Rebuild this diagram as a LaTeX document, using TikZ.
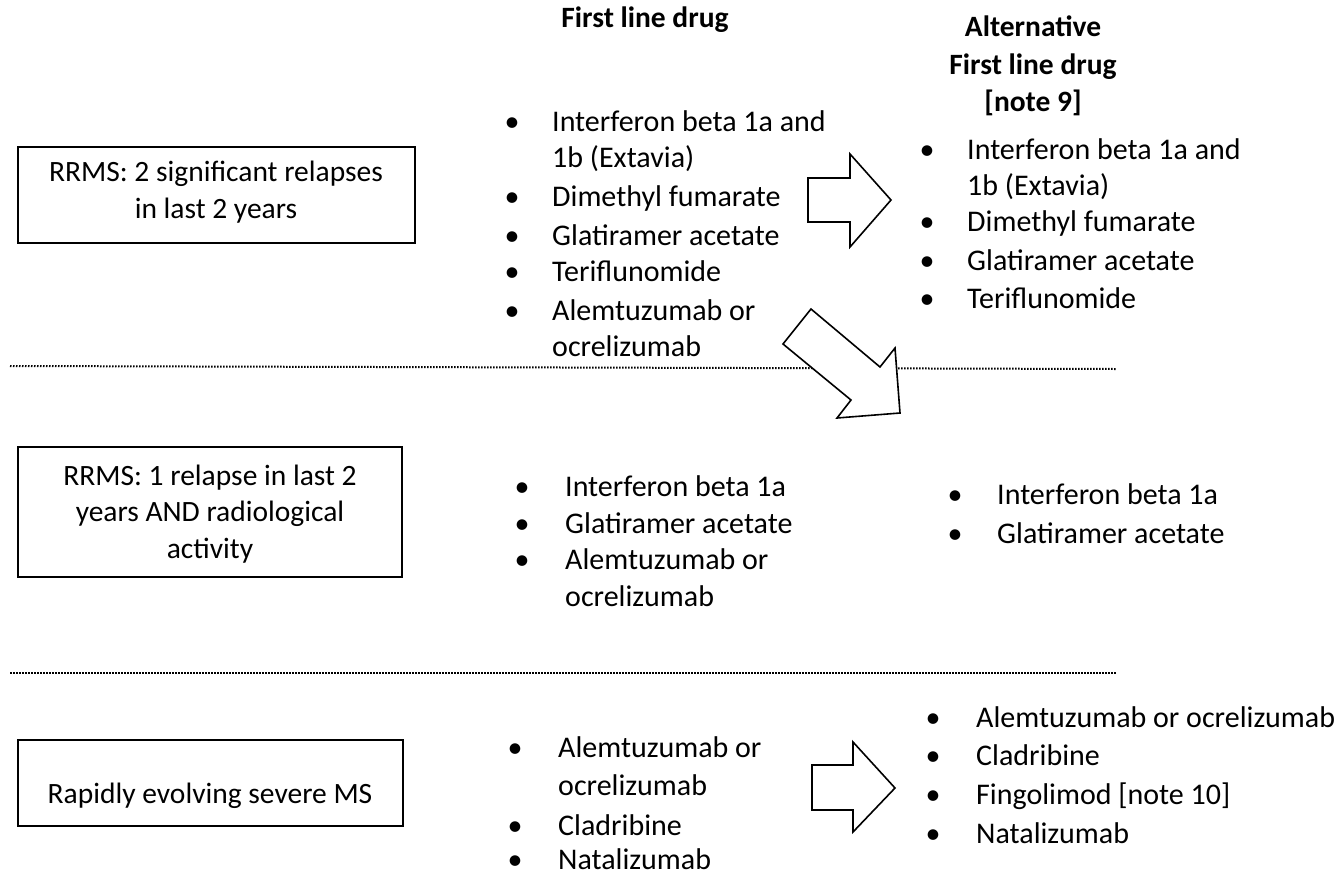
\documentclass[tikz,border=0pt]{standalone}
\usepackage{fontspec}
\setmainfont{Carlito}
\begin{document}
\begin{tikzpicture}[x=1pt,y=-1pt,
  txt/.style={font=\fontsize{30}{33}\selectfont, inner sep=0pt, anchor=base west},
  lowtxt/.style={txt, text depth=0pt},
  hdr/.style={font=\fontsize{29.5}{37.5}\bfseries\selectfont, inner sep=0pt, align=center},
  bul/.style={font=\fontsize{30}{33}\selectfont, inner sep=0pt, anchor=base, text depth=0pt},
  boxtxt/.style={font=\fontsize{29.5}{36.5}\selectfont, inner sep=0pt, align=center},
  frame/.style={draw=black, line width=2.2pt},
  blockarrow/.style={draw=black, line width=1.6pt, fill=white, line join=miter},
  dots/.style={draw=black, line width=2pt, dash pattern=on 1.5pt off 1.5pt}]
\useasboundingbox (0,0) rectangle (1341,876);
\fill[white] (0,0) rectangle (1341,876);

% dotted separators
\coordinate (d1a) at (10,366); \coordinate (d1b) at (1116,369);
\coordinate (d2a) at (10,673); \coordinate (d2b) at (1116,673);
\draw[dots] (d1a) -- (d1b);
\draw[dots] (d2a) -- (d2b);

% headers
\node[hdr] (h1) at (645,20) {First line drug};
\node[hdr] (h2) at (1033,66) {Alternative\\First line drug\\{}[note 9]};

% boxes
\draw[frame] (18,147) rectangle (415,243);
\node[boxtxt] (b1) at (216,192) {RRMS: 2 significant relapses\\in last 2 years};
\draw[frame] (18,447) rectangle (402,577);
\node[boxtxt] (b2) at (210,514) {RRMS: 1 relapse in last 2\\years AND radiological\\activity};
\draw[frame] (18,740) rectangle (403,826);
\node[boxtxt] (b3) at (210,796) {Rapidly evolving\ severe MS};

% section 1, column 1
\foreach \y/\t [count=\i] in {122/{Interferon beta 1a and},197/{Dimethyl fumarate},236/{Glatiramer acetate},272/{Teriflunomide},311/{Alemtuzumab or}} {
  \node[bul] (s1ab\i) at (512,\y+9) {\textbullet};
  \node[txt] (s1a\i) at (552,\y+9) {\t};
}
\node[txt] (s1ac1) at (552,167) {1b (Extavia)};
\node[txt] (s1ac2) at (552,356) {ocrelizumab};

% section 1, column 2
\foreach \y/\t [count=\i] in {150/{Interferon beta 1a and},222/{Dimethyl fumarate},261/{Glatiramer acetate},299/{Teriflunomide}} {
  \node[bul] (s1bb\i) at (927,\y+9) {\textbullet};
  \node[txt] (s1b\i) at (967,\y+9) {\t};
}
\node[txt] (s1bc1) at (967,195) {1b (Extavia)};

% section 2, column 1
\foreach \y/\t [count=\i] in {487/{Interferon beta 1a},524/{Glatiramer acetate},560/{Alemtuzumab or}} {
  \node[bul] (s2ab\i) at (522,\y+9) {\textbullet};
  \node[txt] (s2a\i) at (565,\y+9) {\t};
}
\node[txt] (s2ac1) at (565,606) {ocrelizumab};

% section 2, column 2
\foreach \y/\t [count=\i] in {495/{Interferon beta 1a},534/{Glatiramer acetate}} {
  \node[bul] (s2bb\i) at (955,\y+9) {\textbullet};
  \node[txt] (s2b\i) at (997,\y+9) {\t};
}

% section 3, column 1
\foreach \y/\t [count=\i] in {748/{Alemtuzumab or},826/{Cladribine},860/{Natalizumab}} {
  \node[bul] (s3ab\i) at (515,\y+9) {\textbullet};
  \node[lowtxt] (s3a\i) at (558,\y+9) {\t};
}
\node[txt] (s3ac1) at (558,795) {ocrelizumab};

% section 3, column 2
\foreach \y/\t [count=\i] in {718/{Alemtuzumab or ocrelizumab},756/{Cladribine},795/{Fingolimod [note 10]},834/{Natalizumab}} {
  \node[bul] (s3bb\i) at (933,\y+9) {\textbullet};
  \node[txt] (s3b\i) at (976,\y+9) {\t};
}

% block arrows
\draw[blockarrow] (808,178) -- (850,178) -- (850,154) -- (891,200) -- (850,247) -- (850,222) -- (808,222) -- cycle;
\draw[blockarrow] (811,309) -- (880,367) -- (895,348) -- (900,413) -- (837,418) -- (851,400) -- (783,344) -- cycle;
\draw[blockarrow] (812,765) -- (853,765) -- (853,742) -- (895,788) -- (853,832) -- (853,810) -- (812,810) -- cycle;
\end{tikzpicture}
\end{document}
